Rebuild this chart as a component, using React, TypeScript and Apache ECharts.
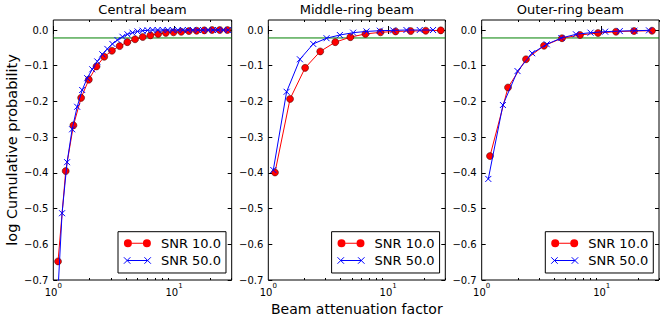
import React, { useEffect, useRef } from 'react';
import * as echarts from 'echarts';

const PANEL_TITLES = ['Central beam', 'Middle-ring beam', 'Outer-ring beam'];
const SERIES_NAMES = ['SNR 10.0', 'SNR 50.0'];
const X_MAJOR_TICKS = [1, 10];
const X_MINOR_TICKS = [2, 3, 4, 5, 6, 7, 8, 9, 20, 30];
const Y_TICKS = [-0.7, -0.6, -0.5, -0.4, -0.3, -0.2, -0.1, 0.0];
const THRESHOLD = -0.0223; // log10(0.95)
const X_AXIS_TITLE = 'Beam attenuation factor';
const Y_AXIS_TITLE = 'log Cumulative probability';

// Central beam
const CENTRAL_X_SNR10 = [1.094, 1.267, 1.468, 1.7, 1.968, 2.28, 2.641, 3.058, 3.542, 4.102, 4.751, 5.502, 6.372, 7.379, 8.546, 9.895, 11.46, 13.27, 15.37, 17.8, 20.62, 23.88, 27.65];
const CENTRAL_Y_SNR10 = [-0.648, -0.395, -0.267, -0.19, -0.139, -0.102, -0.075, -0.058, -0.045, -0.034, -0.026, -0.0196, -0.015, -0.011, -0.008, -0.0065, -0.005, -0.003, -0.002, -0.001, 0, 0, 0];
const CENTRAL_X_SNR50 = [1.074, 1.182, 1.301, 1.432, 1.576, 1.735, 1.909, 2.101, 2.313, 2.546, 2.803, 3.085, 3.395, 3.737, 4.113, 4.527, 4.983, 5.485, 6.037, 6.645, 7.314, 8.051, 8.862, 9.755, 10.74, 11.82, 13.01, 14.32, 15.76, 17.35, 19.1, 21.02, 23.14, 25.47, 28.04];
const CENTRAL_Y_SNR50 = [-0.78, -0.513, -0.37, -0.278, -0.215, -0.168, -0.135, -0.11, -0.088, -0.068, -0.053, -0.039, -0.028, -0.019, -0.012, -0.0075, -0.004, -0.002, -0.001, 0, 0, 0, 0, 0, 0, 0, 0, 0, 0, 0, 0, 0, 0, 0, 0];

// Middle-ring beam
const MIDDLE_X_SNR10 = [1.137, 1.519, 2.029, 2.712, 3.622, 4.839, 6.466, 8.638, 11.54, 15.42, 20.6, 27.52];
const MIDDLE_Y_SNR10 = [-0.399, -0.193, -0.106, -0.06, -0.034, -0.02, -0.011, -0.0065, -0.004, -0.003, -0.002, -0.001];
const MIDDLE_X_SNR50 = [1.101, 1.422, 1.836, 2.371, 3.063, 3.956, 5.109, 6.597, 8.522, 11.01, 14.22, 18.36, 23.71];
const MIDDLE_Y_SNR50 = [-0.392, -0.173, -0.082, -0.039, -0.023, -0.014, -0.0075, -0.004, -0.002, -0.001, 0, 0, 0];

// Outer-ring beam
const OUTER_X_SNR10 = [1.172, 1.656, 2.339, 3.304, 4.667, 6.592, 9.311, 13.15, 18.58, 26.24];
const OUTER_Y_SNR10 = [-0.353, -0.161, -0.082, -0.044, -0.023, -0.014, -0.0084, -0.0047, -0.0028, -0.002];
const OUTER_X_SNR50 = [1.135, 1.502, 1.988, 2.631, 3.482, 4.608, 6.099, 8.071, 10.68, 14.14, 18.71, 24.76];
const OUTER_Y_SNR50 = [-0.417, -0.21, -0.115, -0.065, -0.04, -0.0224, -0.012, -0.0075, -0.0047, -0.003, -0.002, -0.001];

const PANEL_X10 = [CENTRAL_X_SNR10, MIDDLE_X_SNR10, OUTER_X_SNR10];
const PANEL_Y10 = [CENTRAL_Y_SNR10, MIDDLE_Y_SNR10, OUTER_Y_SNR10];
const PANEL_X50 = [CENTRAL_X_SNR50, MIDDLE_X_SNR50, OUTER_X_SNR50];
const PANEL_Y50 = [CENTRAL_Y_SNR50, MIDDLE_Y_SNR50, OUTER_Y_SNR50];

const GRID_LEFT = [53.3, 268.3, 481.7];
const GRID_WIDTH = [178.4, 177, 177.3];
const GRID_TOP = 20;
const GRID_HEIGHT = 260;
const X_MIN = 1;
const X_MAX = 30;
const Y_MIN = -0.7;
const Y_MAX = 0.028;

const FONT = 'DejaVu Sans';
const RED = '#ff0000';
const BLUE = '#0000ff';
const GREEN = '#008000';

const X_SYMBOL = 'path://M0,0L10,10M0,10L10,0';
const RED_LEGEND_ICON =
  'path://M0,4A4,4,0,1,0,8,4A4,4,0,1,0,0,4Z M19,4A4,4,0,1,0,27,4A4,4,0,1,0,19,4Z M8,3.5L19,3.5L19,4.5L8,4.5Z';
const BLUE_LEGEND_ICON = 'path://M1,1L7,7M1,7L7,1M4,4L23,4M20,1L26,7M20,7L26,1';

const zip = (xs: number[], ys: number[]) => xs.map((x, i) => [x, ys[i]]);

const fmtY = (v: number) => (Math.abs(v) < 1e-9 ? '0.0' : v.toFixed(1).replace('-', '\u2212'));
const fmtX = (v: number) => `{b|10}{s|${Math.round(Math.log10(v))}}`;

function buildOption() {
  const grid: any[] = [];
  const xAxis: any[] = [];
  const yAxis: any[] = [];
  const series: any[] = [];
  const graphic: any[] = [];
  const legend: any[] = [];

  for (let i = 0; i < 3; i++) {
    grid.push({
      left: GRID_LEFT[i],
      top: GRID_TOP,
      width: GRID_WIDTH[i],
      height: GRID_HEIGHT,
      show: true,
      borderColor: '#000',
      borderWidth: 1,
      backgroundColor: 'transparent',
      containLabel: false,
      outerBoundsMode: 'none',
    });

    const baseX = {
      type: 'log',
      logBase: 10,
      min: X_MIN,
      max: X_MAX,
      gridIndex: i,
      axisLine: { show: false },
      splitLine: { show: false },
      minorTick: { show: false },
      minorSplitLine: { show: false },
    };
    const majorTick = { show: true, inside: true, length: 4, customValues: X_MAJOR_TICKS, lineStyle: { color: '#000', width: 1 } };
    const minorTick = { show: true, inside: true, length: 2, customValues: X_MINOR_TICKS, lineStyle: { color: '#000', width: 1 } };
    xAxis.push({
      ...baseX,
      position: 'bottom',
      axisTick: majorTick,
      axisLabel: {
        show: true,
        customValues: X_MAJOR_TICKS,
        margin: 2,
        formatter: fmtX,
        rich: {
          b: { fontSize: 10, fontFamily: FONT, color: '#000', verticalAlign: 'bottom', lineHeight: 15 },
          s: { fontSize: 7, fontFamily: FONT, color: '#000', verticalAlign: 'top', lineHeight: 8 },
        },
      },
      name: i === 1 ? X_AXIS_TITLE : '',
      nameLocation: 'middle',
      nameGap: 22,
      nameTextStyle: { fontFamily: FONT, fontSize: 14, color: '#000' },
    });
    xAxis.push({ ...baseX, position: 'top', axisTick: majorTick, axisLabel: { show: false } });
    xAxis.push({ ...baseX, position: 'bottom', axisTick: minorTick, axisLabel: { show: false } });
    xAxis.push({ ...baseX, position: 'top', axisTick: minorTick, axisLabel: { show: false } });

    const baseY = {
      type: 'value',
      min: Y_MIN,
      max: Y_MAX,
      interval: 0.1,
      gridIndex: i,
      axisLine: { show: false },
      splitLine: { show: false },
    };
    const yTick = { show: true, inside: true, length: 4, customValues: Y_TICKS, lineStyle: { color: '#000', width: 1 } };
    yAxis.push({
      ...baseY,
      position: 'left',
      axisTick: yTick,
      axisLabel: {
        show: true,
        customValues: Y_TICKS,
        formatter: fmtY,
        fontFamily: FONT,
        fontSize: 10,
        color: '#000',
        margin: 5,
      },
      name: i === 0 ? Y_AXIS_TITLE : '',
      nameLocation: 'middle',
      nameGap: 34,
      nameTextStyle: { fontFamily: FONT, fontSize: 14.5, color: '#000' },
    });
    yAxis.push({ ...baseY, position: 'right', axisTick: yTick, axisLabel: { show: false } });

    series.push({
      type: 'line',
      xAxisIndex: 4 * i,
      yAxisIndex: 2 * i,
      data: [
        [X_MIN, THRESHOLD],
        [X_MAX, THRESHOLD],
      ],
      silent: true,
      symbol: 'none',
      showSymbol: false,
      lineStyle: { color: GREEN, width: 1, type: 'solid' },
      itemStyle: { color: GREEN },
      emphasis: { disabled: true },
      z: 1,
    });
    series.push({
      type: 'line',
      name: SERIES_NAMES[0],
      xAxisIndex: 4 * i,
      yAxisIndex: 2 * i,
      data: zip(PANEL_X10[i], PANEL_Y10[i]),
      symbol: 'circle',
      symbolSize: 7,
      showSymbol: true,
      clip: true,
      lineStyle: { color: RED, width: 1 },
      itemStyle: { color: RED, borderColor: '#300', borderWidth: 0.5 },
      emphasis: { disabled: true },
      z: 2,
    });
    series.push({
      type: 'line',
      name: SERIES_NAMES[1],
      xAxisIndex: 4 * i,
      yAxisIndex: 2 * i,
      data: zip(PANEL_X50[i], PANEL_Y50[i]),
      symbol: X_SYMBOL,
      symbolSize: 6,
      showSymbol: true,
      clip: true,
      lineStyle: { color: BLUE, width: 1 },
      itemStyle: { color: BLUE, borderColor: BLUE, borderWidth: 1 },
      emphasis: { disabled: true },
      z: 3,
    });

    graphic.push({
      type: 'text',
      x: GRID_LEFT[i] + GRID_WIDTH[i] / 2,
      y: 3,
      silent: true,
      style: {
        text: PANEL_TITLES[i],
        fontFamily: FONT,
        fontSize: 13,
        fontWeight: 'normal',
        fill: '#000',
        align: 'center',
        verticalAlign: 'top',
      },
    });

    legend.push({
      orient: 'vertical',
      left: GRID_LEFT[i] + GRID_WIDTH[i] - 6.3 - 107.4,
      top: 231.7,
      padding: [5, 5, 6, 5.4],
      itemGap: 4.3,
      itemWidth: 27,
      itemHeight: 8,
      backgroundColor: '#fff',
      borderColor: '#000',
      borderWidth: 1,
      borderRadius: 0,
      selectedMode: false,
      textStyle: { fontFamily: FONT, fontSize: 13, color: '#000', padding: [0, 0, 0, 5] },
      data: [
        { name: SERIES_NAMES[0], icon: RED_LEGEND_ICON, itemStyle: { color: RED, borderWidth: 0 } },
        { name: SERIES_NAMES[1], icon: BLUE_LEGEND_ICON, itemStyle: { color: BLUE, borderColor: BLUE, borderWidth: 1 } },
      ],
    });
  }

  return {
    animation: false,
    backgroundColor: '#fff',
    textStyle: { fontFamily: FONT },
    grid,
    xAxis,
    yAxis,
    series,
    graphic,
    legend,
  };
}

export default function App() {
  const ref = useRef<HTMLDivElement>(null);
  useEffect(() => {
    if (!ref.current) return;
    const chart = echarts.init(ref.current, undefined, { renderer: 'svg' });
    chart.setOption(buildOption() as any);
    return () => chart.dispose();
  }, []);
  return (
    <div
      ref={ref}
      style={{ position: 'fixed', left: 0, top: 0, width: 665, height: 321, background: '#fff' }}
    />
  );
}
